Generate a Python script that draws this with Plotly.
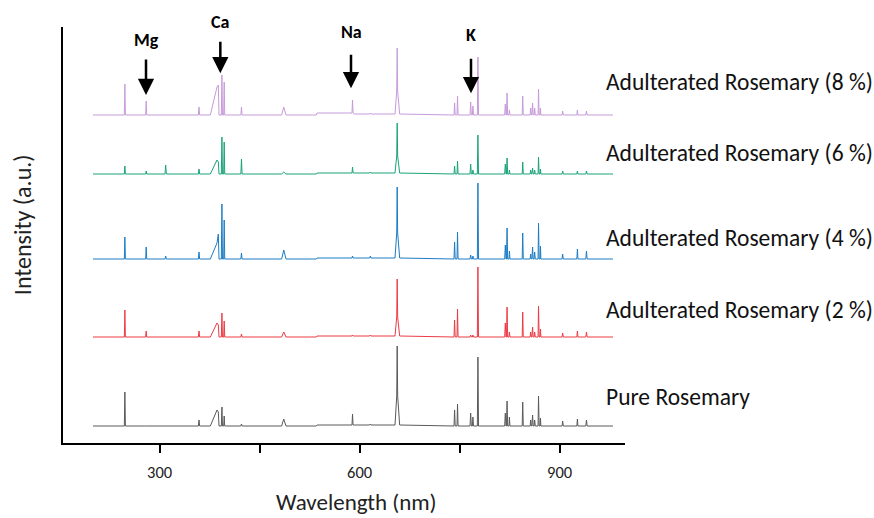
import plotly.graph_objects as go

# Shared wavelength grid (nm): baseline points around each emission line
wl = [200, 247, 247.8, 248.6, 279, 279.8, 280.6, 308, 309, 310, 358, 359, 360,
      376, 386, 388, 389, 392.5, 393.4, 394.2, 396, 396.8, 397.6, 400,
      421.8, 422.7, 423.6, 483, 486.1, 489.5, 535, 536, 588.5, 589.3, 590.1, 592,
      615, 616, 617, 653, 655.6, 656.3, 657, 660,
      741.5, 742.4, 743.3, 746, 746.8, 747.6,
      765.5, 766.5, 767.5, 769, 769.9, 770.8, 776.5, 777.4, 778.3,
      817.5, 818.5, 819.5, 820.2, 821.1, 822, 824, 824.6, 825.4,
      843.8, 844.6, 845.4, 855.7, 856.5, 857.5, 858.3, 859.4, 860.2,
      861.6, 862.5, 863.4, 867.6, 868.3, 869.2, 870.6, 871.2, 871.8,
      903.6, 904.5, 905.4, 925.8, 926.6, 927.4, 939.2, 940.2, 941.2, 980]

pure = [0, 0, 34, 0, 0, 0, 0, 0, 0, 0, 0, 6, 0,
        0, 16, 14, 0, 0, 19, 0, 0, 10, 0, 0,
        0, 2, 0, 0, 7, 0, 0, 1, 1, 12, 1, 1,
        1, 2, 1, 1, 30, 80, 30, 1,
        0, 16, 0, 0, 22, 0,
        0, 13, 0, 0, 9, 0, 0, 69, 0,
        0, 13, 0, 0, 25, 0, 0, 9, 0,
        0, 24, 0, 0, 6, 0, 0, 11, 0,
        0, 6, 0, 0, 30, 0, 0, 8, 0,
        0, 5, 0, 0, 7, 0, 0, 6, 0, 0]

adult_2 = [0, 0, 27, 0, 0, 6, 0, 0, 0, 0, 0, 6, 0,
           0, 14, 12, 0, 0, 24, 0, 0, 16, 0, 0,
           0, 3, 0, 0, 5, 0, 0, 1, 1, 2, 1, 1,
           1, 2, 1, 1, 20, 58, 20, 1,
           0, 17, 0, 0, 28, 0,
           0, 2, 0, 0, 2, 0, 0, 70, 0,
           0, 14, 0, 0, 30, 0, 0, 5, 0,
           0, 25, 0, 0, 5, 0, 0, 10, 0,
           0, 5, 0, 0, 31, 0, 0, 8, 0,
           0, 4, 0, 0, 6, 0, 0, 5, 0, 0]

adult_4 = [0, 0, 22, 0, 0, 12, 0, 0, 3, 0, 0, 7, 0,
           0, 16, 25, 0, 0, 55, 0, 0, 39, 0, 0,
           0, 6, 0, 0, 9, 0, 0, 1, 1, 3, 1, 1,
           1, 3, 1, 1, 26, 72, 26, 1,
           0, 17, 0, 0, 27, 0,
           0, 4, 0, 0, 3, 0, 0, 76, 0,
           0, 14, 0, 0, 31, 0, 0, 8, 0,
           0, 26, 0, 0, 5, 0, 0, 12, 0,
           0, 7, 0, 0, 36, 0, 0, 13, 0,
           0, 5, 0, 0, 10, 0, 0, 8, 0, 0]

adult_6 = [0, 0, 8, 0, 0, 3, 0, 0, 9, 0, 0, 5, 0,
           0, 14, 12, 0, 0, 37, 0, 0, 32, 0, 0,
           0, 15, 0, 0, 2, 0, 0, 1, 1, 7, 1, 1,
           1, 2, 1, 1, 18, 51, 18, 1,
           0, 8, 0, 0, 13, 0,
           0, 10, 0, 0, 4, 0, 0, 39, 0,
           0, 10, 0, 0, 16, 0, 0, 4, 0,
           0, 12, 0, 0, 4, 0, 0, 6, 0,
           0, 4, 0, 0, 17, 0, 0, 5, 0,
           0, 3, 0, 0, 3, 0, 0, 3, 0, 0]

adult_8 = [0, 0, 31, 0, 0, 14, 0, 0, 0, 0, 0, 8, 0,
           0, 28, 30, 0, 0, 40, 0, 0, 33, 0, 0,
           0, 8, 0, 0, 8, 0, 0, 2, 2, 15, 2, 1,
           1, 2, 1, 1, 24, 67, 24, 1,
           0, 12, 0, 0, 19, 0,
           0, 13, 0, 0, 9, 0, 0, 58, 0,
           0, 11, 0, 0, 22, 0, 0, 5, 0,
           0, 19, 0, 0, 7, 0, 0, 12, 0,
           0, 7, 0, 0, 26, 0, 0, 7, 0,
           0, 4, 0, 0, 5, 0, 0, 4, 0, 0]

series_names = ["Pure Rosemary", "Adulterated Rosemary (2 %)", "Adulterated Rosemary (4 %)",
                "Adulterated Rosemary (6 %)", "Adulterated Rosemary (8 %)"]
series_values = [pure, adult_2, adult_4, adult_6, adult_8]
offsets = [17, 106, 184, 269, 328]
label_levels = [46, 133, 205, 290, 361]
colors = ["#5a5a5a", "#ec3b45", "#1c7cc4", "#1aa37a", "#c79bd9"]

elements = ["Mg", "Ca", "Na", "K"]
element_wl = [279.5, 391, 587, 767]

font_family = "Carlito, Calibri, Lato, 'Open Sans', sans-serif"

fig = go.Figure()
for name, vals, off, lev, col in zip(series_names, series_values, offsets, label_levels, colors):
    fig.add_trace(go.Scatter(x=wl, y=[v + off for v in vals], mode="lines",
                             line=dict(color=col, width=1), name=name,
                             showlegend=False, hoverinfo="skip"))
    fig.add_annotation(x=0.9626, xref="paper", y=lev, yref="y",
                       text=name, showarrow=False, xanchor="left", yanchor="middle",
                       font=dict(size=23.5, color="#111111"))

label_y = [0.969, 1.012, 0.988, 0.981]
head_y = [0.8365, 0.889, 0.853, 0.841]
arrow_len = [-37, -33, -35, -36]
for el, w, ly, hy, al in zip(elements, element_wl, label_y, head_y, arrow_len):
    fig.add_annotation(x=w, xref="x", y=ly, yref="paper", text="<b>" + el + "</b>",
                       showarrow=False, font=dict(size=18, color="black"),
                       xanchor="center", yanchor="middle")
    fig.add_annotation(x=w, xref="x", y=hy, yref="paper", ax=0, ay=al, text="",
                       showarrow=True, arrowhead=2, arrowsize=1.3, arrowwidth=2.5,
                       arrowcolor="black")

fig.add_annotation(x=0.523, xref="paper", y=-0.142, yref="paper",
                   text="Wavelength (nm)", showarrow=False,
                   xanchor="center", yanchor="middle",
                   font=dict(size=23, color="#222222"))
fig.add_annotation(x=-0.073, xref="paper", y=0.526, yref="paper",
                   text="Intensity (a.u.)", showarrow=False, textangle=-90,
                   xanchor="center", yanchor="middle",
                   font=dict(size=24, color="#222222"))

fig.update_layout(
    width=874, height=518,
    margin=dict(l=63, r=249, t=27, b=75),
    paper_bgcolor="white", plot_bgcolor="white",
    font=dict(family=font_family, color="#222222"),
    xaxis=dict(range=[155, 998], showgrid=False, zeroline=False,
               showline=True, linecolor="black", linewidth=2,
               tickvals=[300, 450, 600, 750, 900], ticktext=["300", "", "600", "", "900"],
               ticks="outside", ticklen=8, tickwidth=2, tickcolor="black",
               ticklabelstandoff=5,
               tickfont=dict(size=16.5, color="#222222")),
    yaxis=dict(range=[0, 416], showgrid=False, zeroline=False,
               showline=True, linecolor="black", linewidth=2,
               showticklabels=False, ticks=""),
)

fig.write_html("out.html")
